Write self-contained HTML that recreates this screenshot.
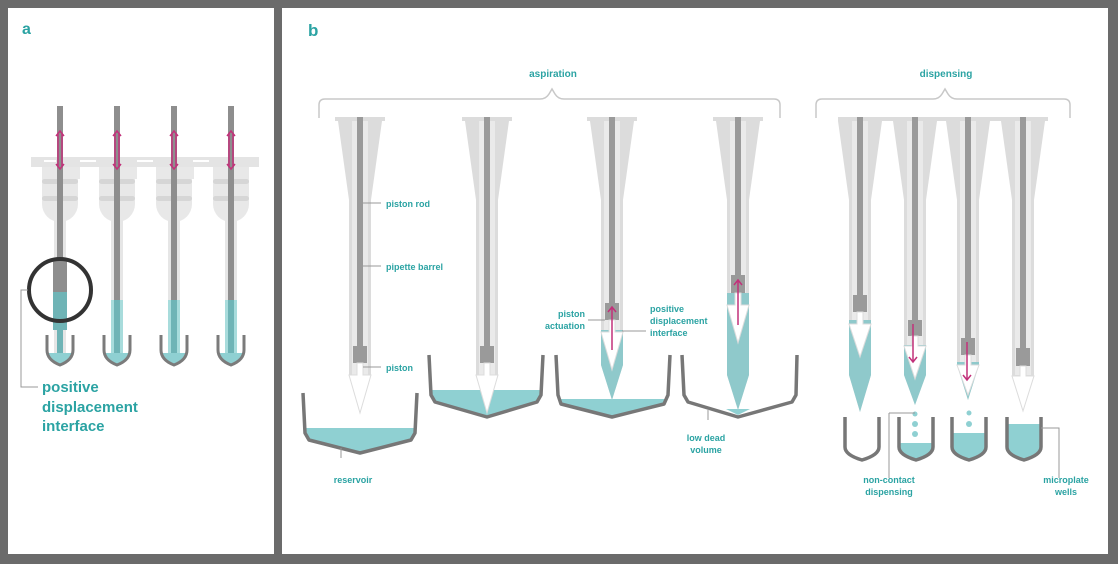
<!DOCTYPE html>
<html><head><meta charset="utf-8"><style>
body{margin:0;background:#6b6b6b;}
svg{display:block}
text{font-family:"Liberation Sans",sans-serif;font-weight:bold;fill:#2ba3a3}
</style></head><body>
<svg width="1118" height="564" viewBox="0 0 1118 564" xmlns="http://www.w3.org/2000/svg">
<rect x="0" y="0" width="1118" height="564" fill="#6b6b6b"/>
<rect x="8" y="8" width="266" height="546" fill="#fff"/>
<rect x="282" y="8" width="826" height="546" fill="#fff"/>
<text x="22" y="34" font-size="16">a</text>
<text x="308" y="36" font-size="17">b</text>

<!-- PANEL A -->
<g>
<rect x="31" y="157" width="228" height="10" fill="#e4e4e4"/>
<g fill="#fff"><rect x="44" y="160" width="12" height="2"/><rect x="80" y="160" width="16" height="2"/><rect x="137" y="160" width="16" height="2"/><rect x="193" y="160" width="16" height="2"/></g>
<g fill="#e8e8e8">
<path d="M42,167 h36 v37 a18,18 0 0 1 -36,0z"/>
<path d="M99,167 h36 v37 a18,18 0 0 1 -36,0z"/>
<path d="M156,167 h36 v37 a18,18 0 0 1 -36,0z"/>
<path d="M213,167 h36 v37 a18,18 0 0 1 -36,0z"/>
<rect x="60" y="167" width="20" height="12"/><rect x="117" y="167" width="20" height="12"/><rect x="174" y="167" width="20" height="12"/>
</g>
<g fill="#d6d6d6">
<rect x="42" y="179" width="36" height="5" rx="2.5"/><rect x="42" y="196" width="36" height="5" rx="2.5"/>
<rect x="99" y="179" width="36" height="5" rx="2.5"/><rect x="99" y="196" width="36" height="5" rx="2.5"/>
<rect x="156" y="179" width="36" height="5" rx="2.5"/><rect x="156" y="196" width="36" height="5" rx="2.5"/>
<rect x="213" y="179" width="36" height="5" rx="2.5"/><rect x="213" y="196" width="36" height="5" rx="2.5"/>
</g>
<g fill="#e6e6e6"><rect x="54" y="220" width="12" height="142"/><rect x="111" y="220" width="12" height="142"/><rect x="168" y="220" width="12" height="142"/><rect x="225" y="220" width="12" height="142"/></g>
<g fill="#8e8e8e"><rect x="57" y="106" width="6" height="186"/><rect x="114" y="106" width="6" height="194"/><rect x="171" y="106" width="6" height="194"/><rect x="228" y="106" width="6" height="194"/></g>
<rect x="53" y="260" width="14" height="32" fill="#8e8e8e"/>
<rect x="53" y="292" width="14" height="38" fill="#6fb4b6"/>
<g fill="#6fb4b6"><rect x="57" y="330" width="6" height="32"/><rect x="114" y="300" width="6" height="62"/><rect x="171" y="300" width="6" height="62"/><rect x="228" y="300" width="6" height="62"/></g>
<g fill="#a8dcdc"><rect x="111" y="300" width="3" height="62"/><rect x="120" y="300" width="3" height="62"/><rect x="168" y="300" width="3" height="62"/><rect x="177" y="300" width="3" height="62"/><rect x="225" y="300" width="3" height="62"/><rect x="234" y="300" width="3" height="62"/></g>
<g fill="#8fd0d2">
<path d="M47,353 h26 q-4,10 -13,12 q-9,-2 -13,-12z"/><path d="M104,353 h26 q-4,10 -13,12 q-9,-2 -13,-12z"/><path d="M161,353 h26 q-4,10 -13,12 q-9,-2 -13,-12z"/><path d="M218,353 h26 q-4,10 -13,12 q-9,-2 -13,-12z"/>
</g>
<g fill="none" stroke="#7b7b7b" stroke-width="3">
<path d="M47,335 v15 q0,10 13,15 q13,-5 13,-15 v-15"/>
<path d="M104,335 v15 q0,10 13,15 q13,-5 13,-15 v-15"/>
<path d="M161,335 v15 q0,10 13,15 q13,-5 13,-15 v-15"/>
<path d="M218,335 v15 q0,10 13,15 q13,-5 13,-15 v-15"/>
</g>
<circle cx="60" cy="290" r="31" fill="none" stroke="#333" stroke-width="4"/>
<path d="M28,290 H21 V387 H38" fill="none" stroke="#999" stroke-width="1"/>
<g stroke="#c2317a" stroke-width="1.5" fill="none">
<path d="M58,133 v33 M62,133 v33 M56,136 l4,-5 l4,5 M56,164 l4,5 l4,-5"/>
<path d="M115,133 v33 M119,133 v33 M113,136 l4,-5 l4,5 M113,164 l4,5 l4,-5"/>
<path d="M172,133 v33 M176,133 v33 M170,136 l4,-5 l4,5 M170,164 l4,5 l4,-5"/>
<path d="M229,133 v33 M233,133 v33 M227,136 l4,-5 l4,5 M227,164 l4,5 l4,-5"/>
</g>
<text x="42" y="392" font-size="15">positive</text>
<text x="42" y="412" font-size="15">displacement</text>
<text x="42" y="431" font-size="15">interface</text>
</g>

<!-- brackets -->
<g fill="none" stroke="#c8c8c8" stroke-width="1.5">
<path d="M319,118 V105 q0,-6 6,-6 H540 q6,0 9,-5 l3,-5 l3,5 q3,5 9,5 H774 q6,0 6,6 V118"/>
<path d="M816,118 V105 q0,-6 6,-6 H933 q6,0 9,-5 l3,-5 l3,5 q3,5 9,5 H1064 q6,0 6,6 V118"/>
</g>
<text x="553" y="77" font-size="10" text-anchor="middle">aspiration</text>
<text x="946" y="77" font-size="10" text-anchor="middle">dispensing</text>

<!-- reservoir liquid -->
<g fill="#8fd0d2">
<path d="M305,428 H415 L411,440 L360,452 L309,440Z"/>
<path d="M431,390 H541 L537,402 L487,416 L435,402Z"/>
<path d="M558,399 H668 L664,404 L612,416 L561,404Z"/>
<path d="M726,409 H750 L738,415Z"/>
</g>

<!-- tip bodies -->
<g fill="#dcdcdc">
<path d="M335,117h50v4h-3L371,200V375L360,412L349,375V200L338,121h-3z"/>
<path d="M462,117h50v4h-3L498,200V375L487,412L476,375V200L465,121h-3z"/>
<path d="M587,117h50v4h-3L623,200V365L612,400L601,365V200L590,121h-3z"/>
<path d="M713,117h50v4h-3L749,200V375L738,410L727,375V200L716,121h-3z"/>
<rect x="838" y="117" width="210" height="4"/>
<path d="M838,121h44L871,200V375L860,412L849,375V200z"/>
<path d="M893,121h44L926,200V375L915,405L904,375V200z"/>
<path d="M946,121h44L979,200V365L968,400L957,365V200z"/>
<path d="M1001,121h44L1034,200V375L1023,410L1012,375V200z"/>
</g>
<g fill="#eaeaea">
<rect x="352" y="121" width="16" height="254"/>
<rect x="479" y="121" width="16" height="254"/>
<rect x="604" y="121" width="16" height="244"/>
<rect x="730" y="121" width="16" height="254"/>
<rect x="852" y="121" width="16" height="254"/>
<rect x="907" y="121" width="16" height="254"/>
<rect x="960" y="121" width="16" height="244"/>
<rect x="1015" y="121" width="16" height="254"/>
</g>
<!-- liquid in tips -->
<g fill="#8fc9cb">
<path d="M601,330h22v35l-11,35l-11,-35z"/>
<path d="M727,293h22v82l-11,35l-11,-35z"/>
<path d="M849,320h22v55l-11,37l-11,-37z"/>
<path d="M904,345h22v30l-11,30l-11,-30z"/>
<path d="M957,362h22v3l-11,35l-11,-35z"/>
</g>
<!-- rods & pistons -->
<g fill="#9a9a9a">
<rect x="357" y="117" width="6" height="230"/><rect x="353" y="346" width="14" height="17"/>
<rect x="484" y="117" width="6" height="230"/><rect x="480" y="346" width="14" height="17"/>
<rect x="609" y="117" width="6" height="188"/><rect x="605" y="303" width="14" height="17"/>
<rect x="735" y="117" width="6" height="160"/><rect x="731" y="275" width="14" height="18"/>
<rect x="857" y="117" width="6" height="180"/><rect x="853" y="295" width="14" height="17"/>
<rect x="912" y="117" width="6" height="205"/><rect x="908" y="320" width="14" height="16"/>
<rect x="965" y="117" width="6" height="223"/><rect x="961" y="338" width="14" height="17"/>
<rect x="1020" y="117" width="6" height="233"/><rect x="1016" y="348" width="14" height="18"/>
</g>
<!-- white piston heads -->
<g fill="#fff" stroke="#dcdcdc" stroke-width="1">
<path d="M357,363h6v12h8l-11,38l-11,-38h8z"/>
<path d="M484,363h6v12h8l-11,38l-11,-38h8z"/>
<path d="M609,320h6v12h8l-11,38l-11,-38h8z"/>
<path d="M735,293h6v12h8l-11,38l-11,-38h8z"/>
<path d="M857,312h6v12h8l-11,33l-11,-33h8z"/>
<path d="M912,336h6v10h8l-11,33l-11,-33h8z"/>
<path d="M965,355h6v10h8l-11,30l-11,-30h8z"/>
<path d="M1020,366h6v10h8l-11,35l-11,-35h8z"/>
</g>
<!-- reservoir outlines -->
<g fill="none" stroke="#777" stroke-width="3.5" stroke-linejoin="round">
<path d="M303,393 L305,433 L309,440 L360,453 L411,440 L415,433 L417,393"/>
<path d="M429,355 L431,395 L435,402 L487,417 L537,402 L541,395 L543,355"/>
<path d="M556,355 L558,395 L561,404 L612,417 L664,404 L668,395 L670,355"/>
<path d="M682,355 L684,395 L688,402 L738,417 L792,402 L796,395 L797,355"/>
</g>
<!-- wells -->
<g fill="#8fd0d2">
<path d="M899,443h34v4q0,8 -17,13q-17,-5 -17,-13z"/>
<path d="M952,433h34v14q0,8 -17,13q-17,-5 -17,-13z"/>
<path d="M1007,424h34v23q0,8 -17,13q-17,-5 -17,-13z"/>
<circle cx="915" cy="414" r="2.5"/><circle cx="915" cy="424" r="3"/><circle cx="915" cy="434" r="3"/>
<circle cx="969" cy="413" r="2.5"/><circle cx="969" cy="424" r="3"/>
</g>
<g fill="none" stroke="#777" stroke-width="3.5">
<path d="M845,417v30q0,8 17,13q17,-5 17,-13v-30"/>
<path d="M899,417v30q0,8 17,13q17,-5 17,-13v-30"/>
<path d="M952,417v30q0,8 17,13q17,-5 17,-13v-30"/>
<path d="M1007,417v30q0,8 17,13q17,-5 17,-13v-30"/>
</g>
<!-- magenta arrows -->
<g stroke="#c2317a" stroke-width="1.5" fill="none">
<path d="M612,350 V307 M608,312 l4,-5 l4,5"/>
<path d="M738,325 V280 M734,285 l4,-5 l4,5"/>
<path d="M913,324 V362 M909,357 l4,5 l4,-5"/>
<path d="M967,342 V380 M963,375 l4,5 l4,-5"/>
</g>
<!-- leader lines -->
<g stroke="#999" stroke-width="1" fill="none">
<line x1="363" y1="203" x2="381" y2="203"/>
<line x1="363" y1="266" x2="381" y2="266"/>
<line x1="363" y1="367" x2="381" y2="367"/>
<path d="M341,448 V458"/>
<line x1="588" y1="320" x2="605" y2="320"/>
<line x1="622" y1="331" x2="646" y2="331"/>
<path d="M708,409 V420"/>
<path d="M889,413 H915 M889,413 V478"/>
<path d="M1041,428 H1059 V478"/>
</g>
<g font-size="9">
<text x="386" y="207">piston rod</text>
<text x="386" y="270">pipette barrel</text>
<text x="386" y="371">piston</text>
<text x="353" y="483" text-anchor="middle">reservoir</text>
<text x="585" y="317" text-anchor="end">piston</text>
<text x="585" y="329" text-anchor="end">actuation</text>
<text x="650" y="312">positive</text>
<text x="650" y="324">displacement</text>
<text x="650" y="336">interface</text>
<text x="706" y="441" text-anchor="middle">low dead</text>
<text x="706" y="453" text-anchor="middle">volume</text>
<text x="889" y="483" text-anchor="middle">non-contact</text>
<text x="889" y="495" text-anchor="middle">dispensing</text>
<text x="1066" y="483" text-anchor="middle">microplate</text>
<text x="1066" y="495" text-anchor="middle">wells</text>
</g>
</svg>
</body></html>
